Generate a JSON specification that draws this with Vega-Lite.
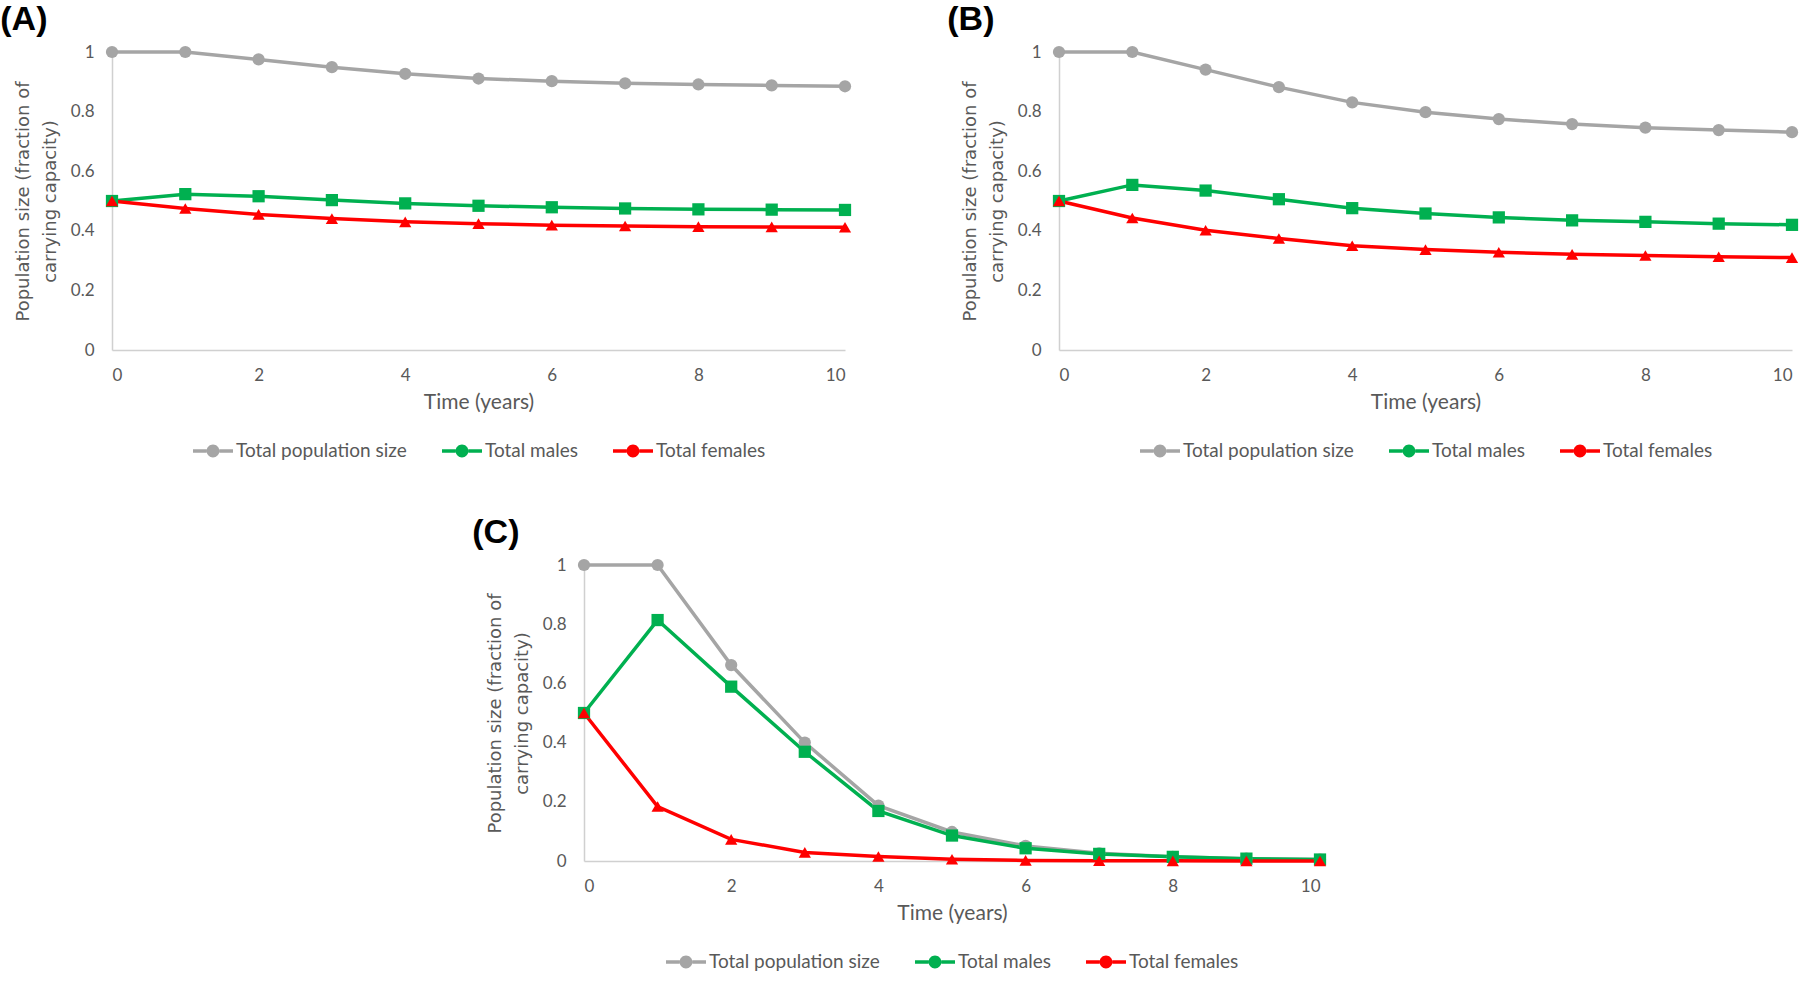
{
  "$schema": "https://vega.github.io/schema/vega-lite/v6.json",
  "padding": {"left": 0, "top": 3, "right": 2, "bottom": 0},
  "background": "white",
  "config": {
    "view": {"stroke": null},
    "font": "Lato",
    "axis": {
      "domainColor": "#D0D0D0",
      "domainWidth": 1.5,
      "ticks": false,
      "grid": false,
      "labelColor": "#595959",
      "labelFont": "Lato",
      "labelFontSize": 17,
      "titleColor": "#595959",
      "titleFontWeight": "normal"
    },
    "legend": {
      "labelFont": "Lato",
      "labelFontSize": 19,
      "labelColor": "#595959",
      "labelLimit": 400,
      "layout": {"bottom": {"anchor": "middle"}}
    },
    "title": {
      "font": "Liberation Sans",
      "fontSize": 34,
      "fontWeight": "bold",
      "color": "black",
      "anchor": "start",
      "frame": "bounds"
    }
  },
  "datasets": {
    "A": [
      {"year": 0, "series": "Total population size", "value": 1},
      {"year": 1, "series": "Total population size", "value": 1},
      {"year": 2, "series": "Total population size", "value": 0.975},
      {"year": 3, "series": "Total population size", "value": 0.949},
      {"year": 4, "series": "Total population size", "value": 0.927},
      {"year": 5, "series": "Total population size", "value": 0.911},
      {"year": 6, "series": "Total population size", "value": 0.902},
      {"year": 7, "series": "Total population size", "value": 0.895},
      {"year": 8, "series": "Total population size", "value": 0.891},
      {"year": 9, "series": "Total population size", "value": 0.888},
      {"year": 10, "series": "Total population size", "value": 0.885},
      {"year": 0, "series": "Total males", "value": 0.5},
      {"year": 1, "series": "Total males", "value": 0.523},
      {"year": 2, "series": "Total males", "value": 0.516},
      {"year": 3, "series": "Total males", "value": 0.503},
      {"year": 4, "series": "Total males", "value": 0.492},
      {"year": 5, "series": "Total males", "value": 0.484},
      {"year": 6, "series": "Total males", "value": 0.479},
      {"year": 7, "series": "Total males", "value": 0.475},
      {"year": 8, "series": "Total males", "value": 0.472},
      {"year": 9, "series": "Total males", "value": 0.471},
      {"year": 10, "series": "Total males", "value": 0.47},
      {"year": 0, "series": "Total females", "value": 0.5},
      {"year": 1, "series": "Total females", "value": 0.475},
      {"year": 2, "series": "Total females", "value": 0.455},
      {"year": 3, "series": "Total females", "value": 0.441},
      {"year": 4, "series": "Total females", "value": 0.43},
      {"year": 5, "series": "Total females", "value": 0.424},
      {"year": 6, "series": "Total females", "value": 0.419},
      {"year": 7, "series": "Total females", "value": 0.416},
      {"year": 8, "series": "Total females", "value": 0.414},
      {"year": 9, "series": "Total females", "value": 0.413},
      {"year": 10, "series": "Total females", "value": 0.412}
    ],
    "B": [
      {"year": 0, "series": "Total population size", "value": 1},
      {"year": 1, "series": "Total population size", "value": 1},
      {"year": 2, "series": "Total population size", "value": 0.941},
      {"year": 3, "series": "Total population size", "value": 0.882},
      {"year": 4, "series": "Total population size", "value": 0.831},
      {"year": 5, "series": "Total population size", "value": 0.798},
      {"year": 6, "series": "Total population size", "value": 0.775},
      {"year": 7, "series": "Total population size", "value": 0.758},
      {"year": 8, "series": "Total population size", "value": 0.746},
      {"year": 9, "series": "Total population size", "value": 0.738},
      {"year": 10, "series": "Total population size", "value": 0.731},
      {"year": 0, "series": "Total males", "value": 0.5},
      {"year": 1, "series": "Total males", "value": 0.554},
      {"year": 2, "series": "Total males", "value": 0.535},
      {"year": 3, "series": "Total males", "value": 0.506},
      {"year": 4, "series": "Total males", "value": 0.476},
      {"year": 5, "series": "Total males", "value": 0.458},
      {"year": 6, "series": "Total males", "value": 0.445},
      {"year": 7, "series": "Total males", "value": 0.435},
      {"year": 8, "series": "Total males", "value": 0.43},
      {"year": 9, "series": "Total males", "value": 0.424},
      {"year": 10, "series": "Total males", "value": 0.42},
      {"year": 0, "series": "Total females", "value": 0.5},
      {"year": 1, "series": "Total females", "value": 0.443},
      {"year": 2, "series": "Total females", "value": 0.402},
      {"year": 3, "series": "Total females", "value": 0.374},
      {"year": 4, "series": "Total females", "value": 0.35},
      {"year": 5, "series": "Total females", "value": 0.337},
      {"year": 6, "series": "Total females", "value": 0.328},
      {"year": 7, "series": "Total females", "value": 0.321},
      {"year": 8, "series": "Total females", "value": 0.317},
      {"year": 9, "series": "Total females", "value": 0.313},
      {"year": 10, "series": "Total females", "value": 0.31}
    ],
    "C": [
      {"year": 0, "series": "Total population size", "value": 1},
      {"year": 1, "series": "Total population size", "value": 1},
      {"year": 2, "series": "Total population size", "value": 0.662},
      {"year": 3, "series": "Total population size", "value": 0.4},
      {"year": 4, "series": "Total population size", "value": 0.187},
      {"year": 5, "series": "Total population size", "value": 0.098},
      {"year": 6, "series": "Total population size", "value": 0.051},
      {"year": 7, "series": "Total population size", "value": 0.026},
      {"year": 8, "series": "Total population size", "value": 0.014},
      {"year": 9, "series": "Total population size", "value": 0.008},
      {"year": 10, "series": "Total population size", "value": 0.005},
      {"year": 0, "series": "Total males", "value": 0.5},
      {"year": 1, "series": "Total males", "value": 0.814},
      {"year": 2, "series": "Total males", "value": 0.589},
      {"year": 3, "series": "Total males", "value": 0.369},
      {"year": 4, "series": "Total males", "value": 0.169},
      {"year": 5, "series": "Total males", "value": 0.086},
      {"year": 6, "series": "Total males", "value": 0.043},
      {"year": 7, "series": "Total males", "value": 0.024},
      {"year": 8, "series": "Total males", "value": 0.014},
      {"year": 9, "series": "Total males", "value": 0.008},
      {"year": 10, "series": "Total males", "value": 0.005},
      {"year": 0, "series": "Total females", "value": 0.5},
      {"year": 1, "series": "Total females", "value": 0.184},
      {"year": 2, "series": "Total females", "value": 0.073},
      {"year": 3, "series": "Total females", "value": 0.029},
      {"year": 4, "series": "Total females", "value": 0.015},
      {"year": 5, "series": "Total females", "value": 0.006},
      {"year": 6, "series": "Total females", "value": 0.002},
      {"year": 7, "series": "Total females", "value": 0.001},
      {"year": 8, "series": "Total females", "value": 0.0005},
      {"year": 9, "series": "Total females", "value": 0.0002},
      {"year": 10, "series": "Total females", "value": 0.0001}
    ]
  },
  "vconcat": [
    {
      "hconcat": [
        {
          "title": {"text": "(A)", "dx": -14, "offset": 6},
          "width": 733, "height": 298,
          "data": {"name": "A"},
          "encoding": {
            "x": {"field": "year", "type": "quantitative", "scale": {"domain": [0, 10], "nice": false}, "axis": {"values": [0, 2, 4, 6, 8, 10], "title": "Time (years)", "titleFont": "Lato", "titleFontSize": 21, "labelPadding": 17, "titlePadding": 8}},
            "y": {"field": "value", "type": "quantitative", "scale": {"domain": [0, 1], "nice": false}, "axis": {"values": [0, 0.2, 0.4, 0.6, 0.8, 1], "format": "~g", "labelPadding": 18, "title": ["Population size (fraction of", "carrying capacity)"], "titleFont": "DejaVu Sans", "titleFontSize": 18, "titleLineHeight": 27, "titlePadding": 11}}
          },
          "layer": [
            {"mark": {"type": "line", "strokeWidth": 3.5}, "encoding": {"stroke": {"field": "series", "type": "nominal", "scale": {"domain": ["Total females", "Total males", "Total population size"], "range": ["#FF0000", "#00B050", "#A5A5A5"]}, "legend": null}}},
            {"mark": {"type": "point", "filled": true, "opacity": 1, "size": 150}, "encoding": {
              "shape": {"field": "series", "type": "nominal", "scale": {"domain": ["Total males", "Total females", "Total population size"], "range": ["square", "triangle-up", "circle"]}, "legend": null},
              "color": {"field": "series", "type": "nominal", "scale": {"domain": ["Total population size", "Total males", "Total females"], "range": ["#A5A5A5", "#00B050", "#FF0000"]},
                "legend": {"orient": "bottom", "direction": "horizontal", "title": null, "offset": 18, "symbolSize": 1600, "columnPadding": 34, "labelOffset": 2,
                  "symbolType": "M-1,-0.09L-0.32,-0.09L-0.32,0.09L-1,0.09Z M0.32,-0.09L1,-0.09L1,0.09L0.32,0.09Z M-0.32,0A0.32,0.32 0 1,0 0.32,0A0.32,0.32 0 1,0 -0.32,0Z",
                  "encode": {"symbols": {
                    "shape": {"condition": [{"test": "datum.value === 'Total males'", "value": "M-1,-0.09L-0.28,-0.09L-0.28,0.09L-1,0.09Z M0.28,-0.09L1,-0.09L1,0.09L0.28,0.09Z M-0.28,-0.28L0.28,-0.28L0.28,0.28L-0.28,0.28Z"}, {"test": "datum.value === 'Total females'", "value": "M-1,-0.09L-0.2,-0.09L-0.2,0.09L-1,0.09Z M0.2,-0.09L1,-0.09L1,0.09L0.2,0.09Z M0,-0.36L0.36,0.26L-0.36,0.26Z"}], "value": "M-1,-0.09L-0.32,-0.09L-0.32,0.09L-1,0.09Z M0.32,-0.09L1,-0.09L1,0.09L0.32,0.09Z M-0.32,0A0.32,0.32 0 1,0 0.32,0A0.32,0.32 0 1,0 -0.32,0Z"},
                    "strokeWidth": {"value": 0}
                  }}}}
            }}
          ]
        },
        {
          "title": {"text": "(B)", "dx": -14, "offset": 6},
          "width": 733, "height": 298,
          "data": {"name": "B"},
          "encoding": {
            "x": {"field": "year", "type": "quantitative", "scale": {"domain": [0, 10], "nice": false}, "axis": {"values": [0, 2, 4, 6, 8, 10], "title": "Time (years)", "titleFont": "Lato", "titleFontSize": 21, "labelPadding": 17, "titlePadding": 8}},
            "y": {"field": "value", "type": "quantitative", "scale": {"domain": [0, 1], "nice": false}, "axis": {"values": [0, 0.2, 0.4, 0.6, 0.8, 1], "format": "~g", "labelPadding": 18, "title": ["Population size (fraction of", "carrying capacity)"], "titleFont": "DejaVu Sans", "titleFontSize": 18, "titleLineHeight": 27, "titlePadding": 11}}
          },
          "layer": [
            {"mark": {"type": "line", "strokeWidth": 3.5}, "encoding": {"stroke": {"field": "series", "type": "nominal", "scale": {"domain": ["Total females", "Total males", "Total population size"], "range": ["#FF0000", "#00B050", "#A5A5A5"]}, "legend": null}}},
            {"mark": {"type": "point", "filled": true, "opacity": 1, "size": 150}, "encoding": {
              "shape": {"field": "series", "type": "nominal", "scale": {"domain": ["Total males", "Total females", "Total population size"], "range": ["square", "triangle-up", "circle"]}, "legend": null},
              "color": {"field": "series", "type": "nominal", "scale": {"domain": ["Total population size", "Total males", "Total females"], "range": ["#A5A5A5", "#00B050", "#FF0000"]},
                "legend": {"orient": "bottom", "direction": "horizontal", "title": null, "offset": 18, "symbolSize": 1600, "columnPadding": 34, "labelOffset": 2,
                  "symbolType": "M-1,-0.09L-0.32,-0.09L-0.32,0.09L-1,0.09Z M0.32,-0.09L1,-0.09L1,0.09L0.32,0.09Z M-0.32,0A0.32,0.32 0 1,0 0.32,0A0.32,0.32 0 1,0 -0.32,0Z",
                  "encode": {"symbols": {
                    "shape": {"condition": [{"test": "datum.value === 'Total males'", "value": "M-1,-0.09L-0.28,-0.09L-0.28,0.09L-1,0.09Z M0.28,-0.09L1,-0.09L1,0.09L0.28,0.09Z M-0.28,-0.28L0.28,-0.28L0.28,0.28L-0.28,0.28Z"}, {"test": "datum.value === 'Total females'", "value": "M-1,-0.09L-0.2,-0.09L-0.2,0.09L-1,0.09Z M0.2,-0.09L1,-0.09L1,0.09L0.2,0.09Z M0,-0.36L0.36,0.26L-0.36,0.26Z"}], "value": "M-1,-0.09L-0.32,-0.09L-0.32,0.09L-1,0.09Z M0.32,-0.09L1,-0.09L1,0.09L0.32,0.09Z M-0.32,0A0.32,0.32 0 1,0 0.32,0A0.32,0.32 0 1,0 -0.32,0Z"},
                    "strokeWidth": {"value": 0}
                  }}}}
            }}
          ]
        }
      ],
      "spacing": 95,
      "resolve": {"scale": {"color": "independent", "shape": "independent", "stroke": "independent"}, "legend": {"color": "independent", "shape": "independent"}}
    },
    {
      "title": {"text": "(C)", "dx": -14, "offset": 6},
      "width": 736, "height": 296,
      "data": {"name": "C"},
      "encoding": {
        "x": {"field": "year", "type": "quantitative", "scale": {"domain": [0, 10], "nice": false}, "axis": {"values": [0, 2, 4, 6, 8, 10], "title": "Time (years)", "titleFont": "Lato", "titleFontSize": 21, "labelPadding": 17, "titlePadding": 8}},
        "y": {"field": "value", "type": "quantitative", "scale": {"domain": [0, 1], "nice": false}, "axis": {"values": [0, 0.2, 0.4, 0.6, 0.8, 1], "format": "~g", "labelPadding": 18, "title": ["Population size (fraction of", "carrying capacity)"], "titleFont": "DejaVu Sans", "titleFontSize": 18, "titleLineHeight": 27, "titlePadding": 11}}
      },
      "layer": [
        {"mark": {"type": "line", "strokeWidth": 3.5}, "encoding": {"stroke": {"field": "series", "type": "nominal", "scale": {"domain": ["Total females", "Total males", "Total population size"], "range": ["#FF0000", "#00B050", "#A5A5A5"]}, "legend": null}}},
        {"mark": {"type": "point", "filled": true, "opacity": 1, "size": 150}, "encoding": {
          "shape": {"field": "series", "type": "nominal", "scale": {"domain": ["Total males", "Total females", "Total population size"], "range": ["square", "triangle-up", "circle"]}, "legend": null},
          "color": {"field": "series", "type": "nominal", "scale": {"domain": ["Total population size", "Total males", "Total females"], "range": ["#A5A5A5", "#00B050", "#FF0000"]},
            "legend": {"orient": "bottom", "direction": "horizontal", "title": null, "offset": 18, "symbolSize": 1600, "columnPadding": 34, "labelOffset": 2,
              "symbolType": "M-1,-0.09L-0.32,-0.09L-0.32,0.09L-1,0.09Z M0.32,-0.09L1,-0.09L1,0.09L0.32,0.09Z M-0.32,0A0.32,0.32 0 1,0 0.32,0A0.32,0.32 0 1,0 -0.32,0Z",
              "encode": {"symbols": {
                "shape": {"condition": [{"test": "datum.value === 'Total males'", "value": "M-1,-0.09L-0.28,-0.09L-0.28,0.09L-1,0.09Z M0.28,-0.09L1,-0.09L1,0.09L0.28,0.09Z M-0.28,-0.28L0.28,-0.28L0.28,0.28L-0.28,0.28Z"}, {"test": "datum.value === 'Total females'", "value": "M-1,-0.09L-0.2,-0.09L-0.2,0.09L-1,0.09Z M0.2,-0.09L1,-0.09L1,0.09L0.2,0.09Z M0,-0.36L0.36,0.26L-0.36,0.26Z"}], "value": "M-1,-0.09L-0.32,-0.09L-0.32,0.09L-1,0.09Z M0.32,-0.09L1,-0.09L1,0.09L0.32,0.09Z M-0.32,0A0.32,0.32 0 1,0 0.32,0A0.32,0.32 0 1,0 -0.32,0Z"},
                "strokeWidth": {"value": 0}
              }}}}
        }}
      ]
    }
  ],
  "spacing": 55,
  "center": true,
  "resolve": {"scale": {"color": "independent", "shape": "independent", "stroke": "independent"}, "legend": {"color": "independent", "shape": "independent"}}
}
